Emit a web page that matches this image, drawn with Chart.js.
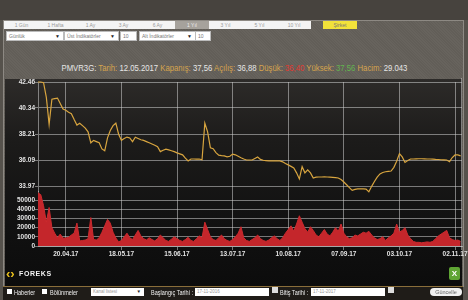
<!DOCTYPE html>
<html>
<head>
<meta charset="utf-8">
<script src="https://cdn.jsdelivr.net/npm/chart.js@4.4.1/dist/chart.umd.min.js"></script>
<style>
  html, body { margin: 0; padding: 0; }
  body { width: 468px; height: 300px; position: relative; overflow: hidden; background: #56524c; font-family: "Liberation Sans", Arial, sans-serif; }
  .abs { position: absolute; }
  #top { left: 0; top: 0; width: 468px; height: 20px; background: #47433e; }
  #panel { left: 3px; top: 20px; width: 459px; height: 266px; border: 1px solid #8d8983; border-bottom: none;
    background: repeating-linear-gradient(45deg, #67635d 0px, #67635d 1px, #625e58 1px, #625e58 2px); }
  .tab { top: 21px; height: 8px; background: #f4f4f4; color: #9a9a9a; font-size: 5px; line-height: 8px; text-align: center; }
  .sel { top: 31px; height: 8px; background: #fff; border: 1px solid #bbb; color: #777; font-size: 5px; line-height: 8px; padding-left: 2px; box-sizing: content-box; }
  .sel b { position: absolute; right: 3px; top: 0; color: #222; font-size: 5px; }
  #chartbg { left: 5px; top: 79px; width: 457px; height: 207px;
    background: linear-gradient(to bottom, #2d2b29 0%, #1c1b1a 30%, #111 70%, #0c0c0c 100%); }
  #title { top: 62px; left: 0; width: 468px; height: 12px; line-height: 12px; text-align: center; white-space: nowrap; }
  #title span.t { display: inline-block; font-size: 9.5px; color: #e6e6e6; transform-origin: 50% 50%; vertical-align: top; }
  .lb { color: #d6a44e; }
  #bar { left: 3px; top: 286px; width: 460px; height: 14px; background: #1f1c18; border-top: 1px solid #8a6e3a; }
  .bt { top: 289px; color: #f0f0f0; font-size: 6.5px; line-height: 8px; white-space: nowrap; transform-origin: 0 50%; transform: scaleX(0.85); }
  .cb { top: 289px; width: 5px; height: 5px; background: #fff; }
  .inp { top: 288px; height: 8px; background: #fff; color: #999; font-size: 4.5px; line-height: 8px; padding-left: 2px; }
  canvas { position: absolute; left: 0; top: 78px; }
</style>
</head>
<body>
<div id="top" class="abs"></div>
<div id="panel" class="abs"></div>

<div class="abs tab" style="left:4px;width:171px;"></div>
<div class="abs tab" style="left:5px;width:33px;">1 Gün</div>
<div class="abs tab" style="left:39px;width:33px;">1 Hafta</div>
<div class="abs tab" style="left:74px;width:33px;">1 Ay</div>
<div class="abs tab" style="left:107px;width:33px;">3 Ay</div>
<div class="abs tab" style="left:141px;width:33px;">6 Ay</div>
<div class="abs tab" style="left:175px;width:34px;background:#a6a29c;color:#eee;">1 Yıl</div>
<div class="abs tab" style="left:209px;width:102px;"></div>
<div class="abs tab" style="left:209px;width:33px;">3 Yıl</div>
<div class="abs tab" style="left:243px;width:33px;">5 Yıl</div>
<div class="abs tab" style="left:277px;width:34px;">10 Yıl</div>
<div class="abs tab" style="left:323px;width:34px;background:#f2e23a;color:#777;">Şirket</div>

<div class="abs sel" style="left:6px;width:54px;">Günlük<b>▼</b></div>
<div class="abs sel" style="left:64px;width:51px;">Üst İndikatörler<b>▼</b></div>
<div class="abs sel" style="left:120px;width:13px;">10</div>
<div class="abs sel" style="left:139px;width:53px;">Alt İndikatörler<b>▼</b></div>
<div class="abs sel" style="left:195px;width:12px;">10</div>

<div id="chartbg" class="abs"></div>

<div id="title" class="abs"><span class="t" id="tt">PMVR3G: <span class="lb">Tarih:</span> 12.05.2017 <span class="lb">Kapanış:</span> 37,56 <span class="lb">Açılış:</span> 36,88 <span class="lb">Düşük:</span> <span style="color:#e03a32">36,40</span> <span class="lb">Yüksek:</span> <span style="color:#62b34f">37,56</span> <span class="lb">Hacim:</span> 29.043</span></div>

<canvas id="chart" width="468" height="207"></canvas>

<div class="abs" style="left:6px;top:267px;color:#ecc21c;font-size:13px;font-weight:bold;line-height:13px;">&lsaquo;&rsaquo;</div>
<div class="abs" style="left:19px;top:270px;color:#f2f2f2;font-size:7px;font-weight:bold;line-height:8px;letter-spacing:0.6px;">FOREKS</div>
<div class="abs" style="left:449px;top:267px;width:11px;height:13px;background:#5fa534;border-radius:2px;color:#fff;font-size:8px;font-weight:bold;line-height:13px;text-align:center;">X</div>

<div id="bar" class="abs"></div>
<div class="abs cb" style="left:7px;"></div>
<div class="abs bt" style="left:14px;">Haberler</div>
<div class="abs cb" style="left:42px;"></div>
<div class="abs bt" style="left:50px;">Bölünmeler</div>
<div class="abs inp" style="left:91px;width:51px;">Kanal listesi<span style="position:absolute;right:3px;color:#222;">▼</span></div>
<div class="abs bt" style="left:151px;">Başlangıç Tarihi :</div>
<div class="abs inp" style="left:195px;width:72px;">17-11-2016</div>
<div class="abs" style="left:272px;top:287px;width:6px;height:6px;background:#ddd;"></div>
<div class="abs bt" style="left:280px;">Bitiş Tarihi :</div>
<div class="abs inp" style="left:311px;width:72px;">17-11-2017</div>
<div class="abs" style="left:388px;top:287px;width:6px;height:6px;background:#ddd;"></div>
<div class="abs" style="left:430px;top:288px;width:32px;height:8px;background:#f0f0f0;border-radius:4px;color:#666;font-size:5.5px;line-height:8px;text-align:center;">Güncelle</div>

<script>
// kapanış fiyatları (günlük)
const priceValues = [
  42.46, 42.46, 42.40, 41.20, 39.00, 41.05, 41.10, 41.15, 40.70, 40.25,
  40.15, 40.00, 39.88, 39.40, 38.95, 39.10, 38.90, 38.70, 38.40, 37.50,
  37.70, 37.60, 37.50, 37.00, 36.85, 37.90, 38.50, 38.90, 39.10, 38.20,
  37.70, 37.85, 37.97, 37.90, 37.60, 37.95, 37.85, 37.75, 37.70, 37.60,
  37.50, 37.40, 37.30, 37.18, 36.78, 36.90, 36.99, 36.92, 36.85, 36.78,
  36.68, 36.60, 36.52, 36.25, 36.02, 36.18, 36.18, 36.17, 36.18, 36.12,
  39.10, 38.40, 37.10, 37.02, 36.70, 36.50, 36.46, 36.43, 36.36, 36.40,
  36.58, 36.52, 36.40, 36.28, 36.18, 36.10, 36.10, 36.10, 36.22, 36.34,
  36.15, 36.08, 36.05, 36.02, 36.02, 36.02, 36.02, 36.02, 35.95, 35.82,
  35.70, 35.58, 35.45, 35.05, 34.55, 35.55, 35.05, 35.30, 35.05, 34.63,
  34.70, 34.71, 34.71, 34.72, 34.71, 34.70, 34.68, 34.66, 34.63, 34.50,
  34.30, 34.08, 33.85, 33.62, 33.70, 33.74, 33.74, 33.74, 33.73, 33.50,
  33.95, 34.35, 34.70, 34.96, 35.08, 35.14, 35.17, 35.20, 35.50, 36.00,
  36.62, 36.35, 35.90, 36.05, 36.18, 36.18, 36.19, 36.20, 36.20, 36.19,
  36.18, 36.18, 36.17, 36.15, 36.14, 36.12, 36.11, 36.10, 35.96, 36.30,
  36.51, 36.51, 36.43
];
// hacim
const volumeValues = [
  58000, 56000, 44000, 26000, 42000, 20000, 14000, 9000, 13000, 8500,
  8700, 9500, 12000, 14000, 25000, 5500, 6000, 6500, 8000, 31000,
  7000, 6500, 9000, 15000, 22000, 29000, 25000, 15000, 8700, 4500,
  6000, 10000, 14000, 9000, 7000, 12000, 17000, 11000, 8000, 6500,
  9000, 7000, 5500, 8000, 12000, 9000, 6000, 5000, 7500, 10000,
  8000, 6000, 5000, 7000, 9500, 6000, 5000, 8000, 11000, 9000,
  26000, 18000, 10000, 7000, 6000, 9000, 12000, 8000, 6000, 5000,
  7000, 10000, 14000, 21000, 9000, 6000, 5000, 7000, 9000, 12000,
  8000, 6000, 5000, 6500, 9000, 11000, 8000, 6000, 9000, 14000,
  18000, 22000, 16000, 24000, 33000, 26000, 19000, 15000, 21000, 17000,
  12000, 10000, 14000, 18000, 13000, 11000, 15000, 20000, 16000, 24000,
  14000, 10000, 8000, 9000, 12000, 11000, 13000, 15000, 14000, 16000,
  12000, 9000, 7000, 8000, 10000, 6000, 9000, 11000, 14000, 24000,
  15000, 17000, 20000, 12000, 8000, 5000, 4000, 4000, 3500, 4000,
  4500, 4000, 5000, 8000, 11000, 13000, 15000, 17000, 9000, 7000,
  6000, 6500, 5000
];
const dateLabels = ['20.04.17', '18.05.17', '15.06.17', '13.07.17', '10.08.17', '07.09.17', '03.10.17', '02.11.17'];
const dateIndex = [10, 30, 50, 70, 90, 110, 130, 150];
const priceTicks = [42.46, 40.34, 38.21, 36.09, 33.97];
const volumeTicks = [0, 10000, 20000, 30000, 40000, 50000];

// başlık genişliği
const tt = document.getElementById('tt');
tt.style.transform = 'scaleX(' + (346 / tt.offsetWidth) + ')';

const gridCol = 'rgba(205,205,205,0.55)';
const tickFont = { family: 'Liberation Sans', size: 6.5, weight: 'bold' };

const rightLine = {
  id: 'rightLine',
  afterDraw(chart) {
    const c = chart.ctx, a = chart.chartArea;
    c.save();
    c.strokeStyle = gridCol;
    c.lineWidth = 1;
    c.beginPath();
    c.moveTo(a.right - 0.5, a.top - 4);
    c.lineTo(a.right - 0.5, a.bottom + 4);
    c.stroke();
    c.restore();
  }
};

new Chart(document.getElementById('chart'), {
  type: 'line',
  data: {
    datasets: [
      {
        data: priceValues.map((v, i) => ({ x: i, y: v })),
        yAxisID: 'y',
        borderColor: '#d8a53f',
        borderWidth: 1.2,
        pointRadius: 0,
        fill: false,
        clip: false
      },
      {
        data: volumeValues.map((v, i) => ({ x: i, y: v })),
        yAxisID: 'yv',
        borderColor: '#cc2a2e',
        backgroundColor: '#c4262b',
        borderWidth: 1,
        pointRadius: 0,
        fill: 'origin',
        clip: false
      }
    ]
  },
  options: {
    responsive: false,
    animation: false,
    devicePixelRatio: 1,
    layout: { padding: { left: 0, right: 6, top: 4, bottom: 25 } },
    plugins: { legend: { display: false }, tooltip: { enabled: false } },
    scales: {
      x: {
        type: 'linear',
        min: 0,
        max: 152.5,
        afterBuildTicks: s => { s.ticks = dateIndex.map(v => ({ value: v })); },
        afterFit: s => { s.height = 14; },
        ticks: {
          callback: v => dateLabels[dateIndex.indexOf(v)],
          color: '#e2e2e2', font: tickFont, padding: 0, maxRotation: 0, autoSkip: false
        },
        grid: { color: gridCol, tickLength: 4 },
        border: { color: gridCol }
      },
      yv: {
        type: 'linear',
        position: 'left',
        stack: 'main',
        stackWeight: 55,
        min: 0,
        max: 60000,
        afterBuildTicks: s => { s.ticks = volumeTicks.map(v => ({ value: v })); },
        afterFit: s => { s.width = 38; },
        ticks: { callback: v => String(v), color: '#e2e2e2', font: tickFont, padding: 0, autoSkip: false },
        grid: { color: gridCol, tickLength: 3 },
        border: { color: gridCol }
      },
      y: {
        type: 'linear',
        position: 'left',
        stack: 'main',
        stackWeight: 109,
        min: 33.57,
        max: 42.46,
        afterBuildTicks: s => { s.ticks = priceTicks.map(v => ({ value: v })); },
        afterFit: s => { s.width = 38; },
        ticks: { callback: v => v.toFixed(2), color: '#e2e2e2', font: tickFont, padding: 0, autoSkip: false },
        grid: { color: gridCol, tickLength: 3 },
        border: { color: gridCol }
      }
    }
  },
  plugins: [rightLine]
});
</script>
</body>
</html>
